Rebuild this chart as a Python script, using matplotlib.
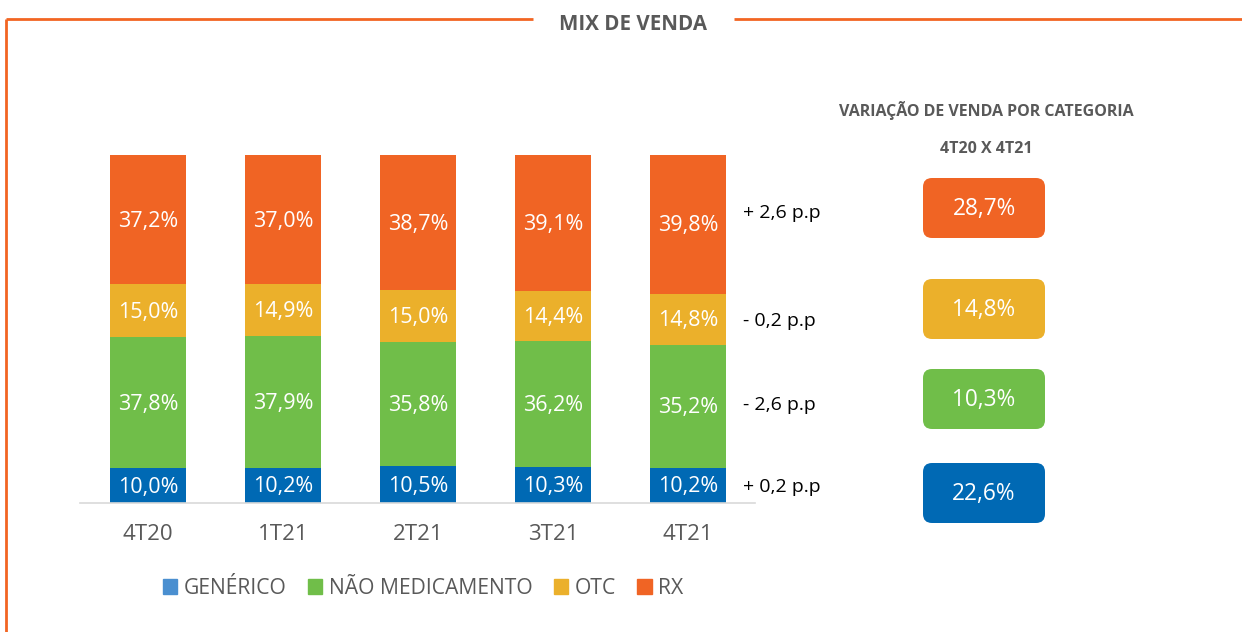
import matplotlib.pyplot as plt
from matplotlib.patches import FancyBboxPatch, Patch
import numpy as np

plt.rcParams['font.family'] = ['Open Sans', 'DejaVu Sans']

# data
cats = ['4T20', '1T21', '2T21', '3T21', '4T21']
generico = [10.0, 10.2, 10.5, 10.3, 10.2]
nao_med = [37.8, 37.9, 35.8, 36.2, 35.2]
otc = [15.0, 14.9, 15.0, 14.4, 14.8]
rx = [37.2, 37.0, 38.7, 39.1, 39.8]
series_names = ['GENÉRICO', 'NÃO MEDICAMENTO', 'OTC', 'RX']
pp_labels = ['+ 2,6 p.p', '- 0,2 p.p', '- 2,6 p.p', '+ 0,2 p.p']   # RX, OTC, NÃO MED, GENÉRICO
growth = ['28,7%', '14,8%', '10,3%', '22,6%']                      # RX, OTC, NÃO MED, GENÉRICO

BLUE = '#0069B4'
GREEN = '#70BE49'
YELLOW = '#EBB02B'
ORANGE = '#F06424'
GRAY = '#595959'
colors = [BLUE, GREEN, YELLOW, ORANGE]

W, H = 1242, 632
fig = plt.figure(figsize=(W / 100, H / 100), dpi=100)

# background overlay in pixel coords for frame, titles, boxes
bg = fig.add_axes([0, 0, 1, 1], zorder=0)
bg.set_xlim(0, W)
bg.set_ylim(H, 0)
bg.axis('off')

frame_kw = dict(color='#F26522', lw=2, solid_capstyle='butt')
bg.plot([6, 533], [19, 19], **frame_kw)
bg.plot([734, W], [19, 19], **frame_kw)
bg.plot([6, 6], [19, H], **frame_kw)
bg.text(633, 25, 'MIX DE VENDA', ha='center', va='center', fontsize=14.8,
        fontweight='bold', color=GRAY)

bg.text(986, 110, 'VARIAÇÃO DE VENDA POR CATEGORIA', ha='center', va='center',
        fontsize=11.5, fontweight='bold', color=GRAY)
bg.text(986, 149, '4T20 X 4T21', ha='center', va='center',
        fontsize=11.5, fontweight='bold', color=GRAY)

# growth boxes (top to bottom: RX, OTC, NÃO MED, GENÉRICO)
box_tops = [178, 279, 369, 463]
box_cols = [ORANGE, YELLOW, GREEN, BLUE]
for top, col, g in zip(box_tops, box_cols, growth):
    bg.add_patch(FancyBboxPatch((923, top), 122, 60,
                                boxstyle='round,pad=0,rounding_size=9',
                                fc=col, ec='none'))
    bg.text(984, top + 31, g, ha='center', va='center', fontsize=16.3, color='white')

# p.p labels next to the last bar
pp_y = [213, 321, 405, 487]
for y, lab in zip(pp_y, pp_labels):
    bg.text(743, y, lab, ha='left', va='center', fontsize=14, color='black')

# stacked bars
ax = fig.add_axes([80 / W, 129 / H, 675 / W, 348 / H], zorder=1)
ax.patch.set_alpha(0)
x = np.arange(len(cats))
bottom = np.zeros(len(cats))
for vals, col in zip([generico, nao_med, otc, rx], colors):
    vals = np.array(vals)
    ax.bar(x, vals, bottom=bottom, width=0.563, color=col, linewidth=0)
    for xi, b, v in zip(x, bottom, vals):
        ax.text(xi, b + v / 2 - 0.5, f'{v:.1f}%'.replace('.', ','), ha='center', va='center',
                fontsize=15.5, color='white')
    bottom += vals

ax.set_xlim(-0.504, 4.496)
ax.set_ylim(0, 100)
ax.set_yticks([])
ax.set_xticks(x)
ax.set_xticklabels(cats, fontsize=16, color=GRAY)
ax.tick_params(axis='x', length=0, pad=15)
for s in ['top', 'left', 'right']:
    ax.spines[s].set_visible(False)
ax.spines['bottom'].set_color('#D9D9D9')
ax.spines['bottom'].set_linewidth(1.2)

handles = [Patch(color=c) for c in ['#4A8FD0', GREEN, YELLOW, ORANGE]]
leg = fig.legend(handles, series_names, loc='center', bbox_to_anchor=(423 / W, 1 - 588 / H),
                 ncol=4, frameon=False, fontsize=15.2, handlelength=0.7, handleheight=0.7,
                 handletextpad=0.3, columnspacing=1.0)
for t in leg.get_texts():
    t.set_color(GRAY)

fig.savefig('out.png', dpi=100)
